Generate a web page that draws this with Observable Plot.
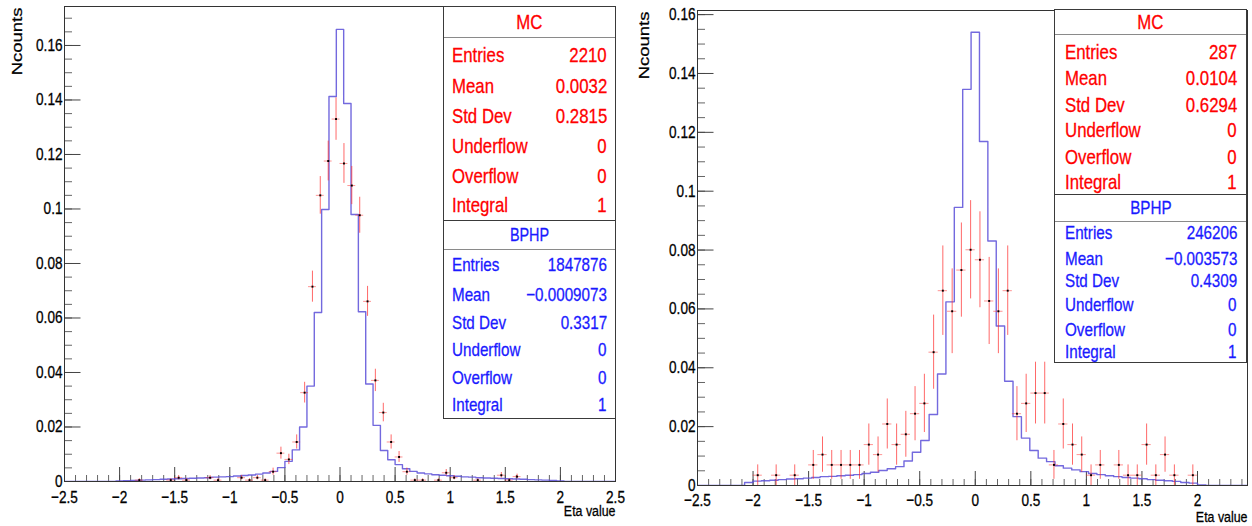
<!DOCTYPE html>
<html>
<head>
<meta charset="utf-8">
<script src="https://cdn.jsdelivr.net/npm/d3@7"></script>
<script src="https://cdn.jsdelivr.net/npm/@observablehq/plot@0.6"></script>
<style>
html, body { margin: 0; padding: 0; background: #fff; overflow: hidden; }
#wrap { position: relative; width: 1252px; height: 526px; overflow: hidden; font-family: "Liberation Sans", Arial, Helvetica, sans-serif; }
.panel { position: absolute; top: 0; }
.panel svg text { stroke: currentColor; stroke-width: 0.3px; }
.box { position: absolute; background: #fff; border: 1px solid #3a3a3a; box-sizing: border-box; -webkit-text-stroke: 0.3px currentColor; }
.box .title { position: absolute; left: 0; right: 0; top: 0; border-bottom: 1px solid #8a8a8a; text-align: center; }
.box .title span { display: inline-block; transform: scaleX(0.8); }
.row { position: absolute; left: 0; right: 0; height: 0; }
.row span { position: absolute; top: 0; white-space: nowrap; line-height: 1; }
.row .lab { transform: translateY(-50%) scaleX(0.8); transform-origin: left center; }
.row .val { transform: translateY(-50%) scaleX(0.8); transform-origin: right center; }
</style>
</head>
<body>
<div id="wrap"></div>
<script>
// ---------------- DATA ----------------
// Left panel: BPHP histogram, 75 bins over [-2.5, 2.5]
const bphpLeftRange = [-2.5, 2.5];
const bphpLeft = [
  0, 0, 0, 0, 0, 0, 0,
  0.0002, 0.0003, 0.0004, 0.0005, 0.0006, 0.0007, 0.0008, 0.0009, 0.0010, 0.0011,
  0.0012, 0.0013, 0.0014, 0.0016, 0.0017, 0.0018, 0.0020, 0.0022, 0.0024, 0.0027,
  0.0031, 0.0037, 0.0051, 0.0074, 0.0116, 0.0200, 0.0350, 0.0620, 0.0998, 0.1413,
  0.1659,
  0.1387, 0.0980, 0.0623, 0.0358, 0.0206, 0.0114, 0.0080, 0.0062, 0.0047, 0.0037,
  0.0031, 0.0028, 0.0025, 0.0023, 0.0021, 0.0019, 0.0017, 0.0016, 0.0014, 0.0013,
  0.0012, 0.0011, 0.0010, 0.0009, 0.0008, 0.0007, 0.0006, 0.0005, 0.0004, 0.0002,
  0, 0, 0, 0, 0, 0, 0
];
// Left panel: MC points (bin centers, values, errors), bin width 1/14
const mcLeftBinWidth = 1 / 14;
const mcLeftX = [-1.821, -1.536, -1.464, -1.393, -1.179, -1.107, -0.893, -0.821, -0.750, -0.679,
  -0.607, -0.536, -0.464, -0.393, -0.321, -0.250, -0.179, -0.107, -0.036, 0.036,
  0.107, 0.179, 0.250, 0.321, 0.393, 0.464, 0.536, 0.607, 0.679, 0.750,
  0.893, 0.964, 1.036, 1.250, 1.464, 1.536, 1.607];
const mcLeftV = [0.0005, 0.0005, 0.0014, 0.0005, 0.0014, 0.0005, 0.0014, 0.0005, 0.0014, 0.0005,
  0.0036, 0.0104, 0.0081, 0.0145, 0.0326, 0.0715, 0.1050, 0.1176, 0.1330, 0.1167,
  0.1086, 0.0977, 0.0661, 0.0371, 0.0253, 0.0145, 0.0090, 0.0036, 0.0005, 0.0005,
  0.0005, 0.0032, 0.0014, 0.0005, 0.0023, 0.0005, 0.0018];
const mcLeftE = [0.0005, 0.0005, 0.0008, 0.0005, 0.0008, 0.0005, 0.0008, 0.0005, 0.0008, 0.0005,
  0.0013, 0.0022, 0.0019, 0.0026, 0.0038, 0.0057, 0.0069, 0.0073, 0.0078, 0.0073,
  0.0070, 0.0066, 0.0055, 0.0041, 0.0034, 0.0026, 0.0020, 0.0013, 0.0005, 0.0005,
  0.0005, 0.0012, 0.0008, 0.0005, 0.0010, 0.0005, 0.0009];

// Right panel: BPHP histogram, 67 bins of width 0.0755 centred on 0
const bphpRightRange = [-2.529, 2.529];
const bphpRight = [
  0, 0, 0, 0, 0, 0,
  0.0010, 0.0015, 0.0016, 0.0018, 0.0020, 0.0022, 0.0023, 0.0025, 0.0027, 0.0030,
  0.0031, 0.0033, 0.0035, 0.0037, 0.0041, 0.0045, 0.0051, 0.0057, 0.0064, 0.0083,
  0.0113, 0.0153, 0.0241, 0.0379, 0.0624, 0.0945, 0.1346,
  0.1540,
  0.1169, 0.0831, 0.0542, 0.0354, 0.0234, 0.0161, 0.0119, 0.0093, 0.0081, 0.0067,
  0.0059, 0.0053, 0.0047, 0.0041, 0.0037, 0.0033, 0.0030, 0.0027, 0.0025, 0.0023,
  0.0020, 0.0018, 0.0016, 0.0014, 0.0010, 0.0008, 0.0002,
  0, 0, 0, 0, 0, 0
];
// Right panel: MC points, bin width 1/12
const mcRightBinWidth = 1 / 12;
const mcRightX = [-1.958, -1.792, -1.625, -1.458, -1.375, -1.292, -1.208, -1.125, -1.042,
  -0.958, -0.875, -0.792, -0.708, -0.625, -0.542, -0.458, -0.375, -0.292, -0.208, -0.125, -0.042,
  0.042, 0.125, 0.208, 0.292, 0.375, 0.458, 0.542, 0.625, 0.708, 0.792, 0.875, 0.958,
  1.042, 1.125, 1.292, 1.375, 1.458, 1.542, 1.625, 1.708, 1.792, 1.958];
const mcRightV = [0.0035, 0.0035, 0.0035, 0.0070, 0.0105, 0.0070, 0.0070, 0.0070, 0.0070,
  0.0139, 0.0105, 0.0209, 0.0139, 0.0174, 0.0244, 0.0279, 0.0453, 0.0662, 0.0592, 0.0732, 0.0801,
  0.0767, 0.0627, 0.0592, 0.0662, 0.0244, 0.0279, 0.0314, 0.0314, 0.0070, 0.0209, 0.0139, 0.0105,
  0.0035, 0.0070, 0.0070, 0.0035, 0.0035, 0.0139, 0.0035, 0.0105, 0.0035, 0.0035];
const mcRightE = [0.0035, 0.0035, 0.0035, 0.0049, 0.0060, 0.0049, 0.0049, 0.0049, 0.0049,
  0.0070, 0.0060, 0.0085, 0.0070, 0.0078, 0.0092, 0.0099, 0.0126, 0.0152, 0.0144, 0.0160, 0.0167,
  0.0163, 0.0148, 0.0144, 0.0152, 0.0092, 0.0099, 0.0105, 0.0105, 0.0049, 0.0085, 0.0070, 0.0060,
  0.0035, 0.0049, 0.0049, 0.0035, 0.0035, 0.0070, 0.0035, 0.0060, 0.0035, 0.0035];

// Axis ticks & labels
const xMajorLeft = [-2.5, -2, -1.5, -1, -0.5, 0, 0.5, 1, 1.5, 2, 2.5];
const xLabelsLeft = ["\u22122.5", "\u22122", "\u22121.5", "\u22121", "\u22120.5", "0", "0.5", "1", "1.5", "2", "2.5"];
const xMajorRight = [-2.5, -2, -1.5, -1, -0.5, 0, 0.5, 1, 1.5, 2];
const xLabelsRight = ["\u22122.5", "\u22122", "\u22121.5", "\u22121", "\u22120.5", "0", "0.5", "1", "1.5", "2"];
const yMajor = [0, 0.02, 0.04, 0.06, 0.08, 0.1, 0.12, 0.14, 0.16];
const yLabels = ["0", "0.02", "0.04", "0.06", "0.08", "0.1", "0.12", "0.14", "0.16"];
const xAxisTitle = "Eta value";
const yAxisTitle = "Ncounts";

// Stat boxes
const statLabels = ["Entries", "Mean", "Std Dev", "Underflow", "Overflow", "Integral"];
const mcLeftStats = ["2210", "0.0032", "0.2815", "0", "0", "1"];
const bphpLeftStats = ["1847876", "\u22120.0009073", "0.3317", "0", "0", "1"];
const mcRightStats = ["287", "0.0104", "0.6294", "0", "0", "1"];
const bphpRightStats = ["246206", "\u22120.003573", "0.4309", "0", "0", "1"];

// ---------------- DRAWING ----------------
const BLUE = "#5a4fd8";
const RED = "#ff2a2a";
const FONT = "'Liberation Sans', Arial, Helvetica, sans-serif";

function stepData(values, range) {
  const w = (range[1] - range[0]) / values.length;
  const pts = values.map((v, i) => ({x: range[0] + i * w, y: v}));
  pts.push({x: range[1], y: values[values.length - 1]});
  return pts;
}
function mcData(xs, vs, es) {
  return xs.map((x, i) => ({x, v: vs[i], e: es[i]}));
}

function panel(o) {
  const pw = o.width - o.ml - o.mr;
  const ph = 526 - o.mt - o.mb;
  const xMinor = d3.range(-25, 26).map(i => i / 10).filter(v => v >= o.xDomain[0] && v <= o.xDomain[1]);
  const yMinor = d3.range(0, 40).map(i => i * 0.005).filter(v => v <= o.yDomain[1]);
  const hw = o.mcBin / 2;
  const yT = yMajor.map((v, i) => ({v, t: yLabels[i]}));
  const xT = o.xMajor.map((v, i) => ({v, t: o.xLabels[i]}));
  const svg = Plot.plot({
    width: o.width, height: 526,
    marginLeft: o.ml, marginRight: o.mr, marginTop: o.mt, marginBottom: o.mb,
    x: {domain: o.xDomain, axis: null},
    y: {domain: o.yDomain, axis: null},
    style: {fontFamily: FONT, background: "transparent", overflow: "visible"},
    marks: [
      Plot.ruleX(xMinor, {x: d => d, insetTop: ph - 6, stroke: "#666", strokeWidth: 1}),
      Plot.ruleX(o.xMajor, {x: d => d, insetTop: ph - 14, stroke: "#444", strokeWidth: 1}),
      Plot.ruleY(yMinor, {y: d => d, insetRight: pw - 8, stroke: "#666", strokeWidth: 1}),
      Plot.ruleY(yMajor, {y: d => d, insetRight: pw - 16.5, stroke: "#444", strokeWidth: 1}),
      Plot.line(o.bphp, {x: "x", y: "y", curve: "step-after", stroke: BLUE, strokeWidth: 1.4, strokeOpacity: 0.85, clip: true}),
      Plot.ruleY(o.mc, {y: "v", x1: d => d.x - hw, x2: d => d.x + hw, stroke: RED, strokeWidth: 1, strokeOpacity: 0.5}),
      Plot.ruleX(o.mc, {x: "x", y1: d => d.v - d.e, y2: d => d.v + d.e, stroke: RED, strokeWidth: 1, strokeOpacity: 0.7}),
      Plot.dot(o.mc, {x: "x", y: "v", symbol: "square", r: 1.1, fill: "#000", stroke: "none"}),
      Plot.frame({stroke: "#333", strokeWidth: 1}),
      Plot.text(yT, {y: "v", text: "t", frameAnchor: "left", textAnchor: "end", lineAnchor: "middle", dx: -2, fontSize: 17, fill: "#000"}),
      Plot.text(xT, {x: "v", text: "t", frameAnchor: "bottom", lineAnchor: "middle", dy: o.xLabDy, fontSize: 17, fill: "#000"}),
      Plot.text([yAxisTitle], {text: d => d, frameAnchor: "top-left", rotate: -90, textAnchor: "end", lineAnchor: "middle", dx: o.yTitleDx, dy: 1, fontSize: 18.5, fill: "#000"}),
      Plot.text([xAxisTitle], {text: d => d, frameAnchor: "bottom-right", textAnchor: "end", lineAnchor: "middle", dy: o.xTitleDy, fontSize: 15.5, fill: "#000"})
    ]
  });
  svg.querySelectorAll("text").forEach(t => {
    const tr = t.getAttribute("transform") || "";
    const rot = /rotate/.test(tr);
    t.setAttribute("transform", tr + (rot ? " scale(1,0.8)" : " scale(0.8,1)"));
  });
  return svg;
}

const wrap = document.getElementById("wrap");

const left = panel({
  width: 626, ml: 64, mr: 11, mt: 6, mb: 45,
  xDomain: [-2.5, 2.5], yDomain: [0, 0.1743],
  xMajor: xMajorLeft, xLabels: xLabelsLeft,
  bphp: stepData(bphpLeft, bphpLeftRange),
  mc: mcData(mcLeftX, mcLeftV, mcLeftE), mcBin: mcLeftBinWidth,
  xLabDy: 16.5, xTitleDy: 29.5, yTitleDx: -47
});
const leftDiv = document.createElement("div");
leftDiv.className = "panel"; leftDiv.style.left = "0px";
leftDiv.appendChild(left); wrap.appendChild(leftDiv);

const right = panel({
  width: 626, ml: 71, mr: 5, mt: 10, mb: 41,
  xDomain: [-2.5, 2.45], yDomain: [0, 0.1614],
  xMajor: xMajorRight, xLabels: xLabelsRight,
  bphp: stepData(bphpRight, bphpRightRange),
  mc: mcData(mcRightX, mcRightV, mcRightE), mcBin: mcRightBinWidth,
  xLabDy: 15, xTitleDy: 32, yTitleDx: -53
});
const rightDiv = document.createElement("div");
rightDiv.className = "panel"; rightDiv.style.left = "626px";
rightDiv.appendChild(right); wrap.appendChild(rightDiv);

function statBox(cfg) {
  const box = document.createElement("div");
  box.className = "box";
  Object.assign(box.style, {left: cfg.x + "px", top: cfg.y + "px", width: cfg.w + "px", height: cfg.h + "px", color: cfg.color});
  const title = document.createElement("div");
  title.className = "title";
  Object.assign(title.style, {height: cfg.th + "px", lineHeight: cfg.th + "px", fontSize: cfg.ts + "px"});
  const ts = document.createElement("span");
  ts.textContent = cfg.title;
  title.appendChild(ts);
  box.appendChild(title);
  statLabels.forEach((lab, i) => {
    const row = document.createElement("div");
    row.className = "row";
    row.style.top = cfg.rows[i] + "px";
    const a = document.createElement("span");
    a.className = "lab"; a.textContent = lab;
    a.style.left = cfg.pl + "px"; a.style.fontSize = cfg.rs + "px";
    const b = document.createElement("span");
    b.className = "val"; b.textContent = cfg.values[i];
    b.style.right = cfg.pr + "px"; b.style.fontSize = cfg.rs + "px";
    row.appendChild(a); row.appendChild(b);
    box.appendChild(row);
  });
  wrap.appendChild(box);
}

statBox({x: 443, y: 6, w: 173, h: 215, th: 30, ts: 21, rs: 21, pl: 8, pr: 8,
  rows: [47, 78, 108, 138, 168, 197], title: "MC", values: mcLeftStats, color: "#ff0000"});
statBox({x: 443, y: 220, w: 173, h: 199, th: 28, ts: 18, rs: 19, pl: 8, pr: 8,
  rows: [43, 73, 101, 128, 156, 183], title: "BPHP", values: bphpLeftStats, color: "#1a1aff"});
statBox({x: 1054, y: 9, w: 193, h: 186, th: 24, ts: 21, rs: 21, pl: 10, pr: 9,
  rows: [41, 67, 94, 119, 146, 171], title: "MC", values: mcRightStats, color: "#ff0000"});
statBox({x: 1054, y: 194, w: 193, h: 169, th: 26, ts: 19, rs: 19, pl: 10, pr: 9,
  rows: [37, 63, 85, 109, 134, 156], title: "BPHP", values: bphpRightStats, color: "#1a1aff"});
</script>
</body>
</html>
